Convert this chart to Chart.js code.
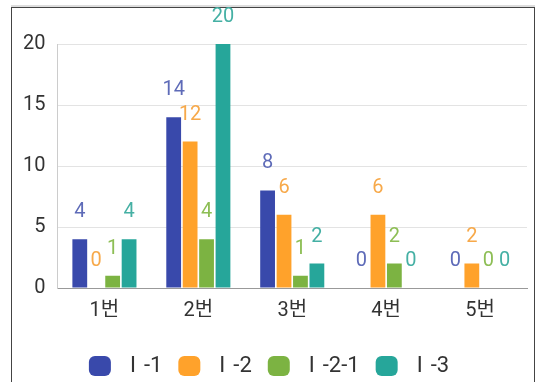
<!DOCTYPE html>
<html>
<head>
<meta charset="utf-8">
<script src="https://cdn.jsdelivr.net/npm/chart.js@4/dist/chart.umd.min.js"></script>
<style>
  html, body { margin: 0; padding: 0; background: #fff; width: 536px; height: 382px; overflow: hidden; }
  #frame { position: absolute; left: 11px; top: 7px; width: 522px; height: 390px; border: 1px solid #444; box-shadow: 0 -2px 0 #ddd; }
  #c { position: absolute; left: 0; top: 0; }
</style>
</head>
<body>
<div id="frame"></div>
<canvas id="c" width="536" height="382"></canvas>
<script>
const categories = ['1번', '2번', '3번', '4번', '5번'];
const seriesNames = ['Ⅰ-1', 'Ⅰ-2', 'Ⅰ-2-1', 'Ⅰ-3'];
const s1 = [4, 14, 8, 0, 0];
const s2 = [0, 12, 6, 6, 2];
const s21 = [1, 4, 1, 2, 0];
const s3 = [4, 20, 2, 0, 0];
const yTicks = [0, 5, 10, 15, 20];

const barColors = ['#3949AB', '#FFA22B', '#7CB342', '#26A69A'];
const labelColors = ['#5E6BB8', '#F7A94A', '#8DBE55', '#45B0A4'];

const FONT = "Roboto, 'Noto Sans CJK KR', sans-serif";

const valueLabels = {
  id: 'valueLabels',
  afterDatasetsDraw(chart) {
    const ctx = chart.ctx;
    ctx.save();
    ctx.font = '20px ' + FONT;
    ctx.textAlign = 'center';
    ctx.textBaseline = 'middle';
    chart.data.datasets.forEach((ds, i) => {
      const meta = chart.getDatasetMeta(i);
      meta.data.forEach((el, j) => {
        ctx.fillStyle = ds.labelColor;
        ctx.fillText(String(ds.data[j]), el.x, el.y - 27);
      });
    });
    ctx.restore();
  }
};

const allSeries = [s1, s2, s21, s3];
new Chart(document.getElementById('c'), {
  type: 'bar',
  data: {
    labels: categories,
    datasets: allSeries.map((d, i) => ({
      label: seriesNames[i],
      data: d,
      backgroundColor: barColors[i],
      labelColor: labelColors[i],
      categoryPercentage: 0.7,
      barPercentage: 0.9
    }))
  },
  options: {
    responsive: false,
    animation: false,
    layout: { padding: { left: 11, right: 9, top: 44, bottom: -5 } },
    plugins: {
      legend: {
        position: 'bottom',
        labels: {
          boxWidth: 22, boxHeight: 20, useBorderRadius: true, borderRadius: 6,
          color: '#333', font: { size: 22, family: FONT }, padding: 16
        }
      },
      tooltip: { enabled: false }
    },
    scales: {
      x: {
        grid: { display: false },
        border: { color: '#999' },
        ticks: { color: '#333', font: { size: 20, family: FONT }, padding: 3 },
        afterFit: (axis) => { axis.height += 13; }
      },
      y: {
        min: 0, max: 20,
        afterBuildTicks: (axis) => { axis.ticks = yTicks.map(v => ({ value: v })); },
        grid: { color: '#e3e3e3', drawTicks: false },
        border: { color: '#ccc' },
        ticks: { color: '#333', font: { size: 20, family: FONT }, padding: 12 }
      }
    }
  },
  plugins: [valueLabels]
});
</script>
</body>
</html>
